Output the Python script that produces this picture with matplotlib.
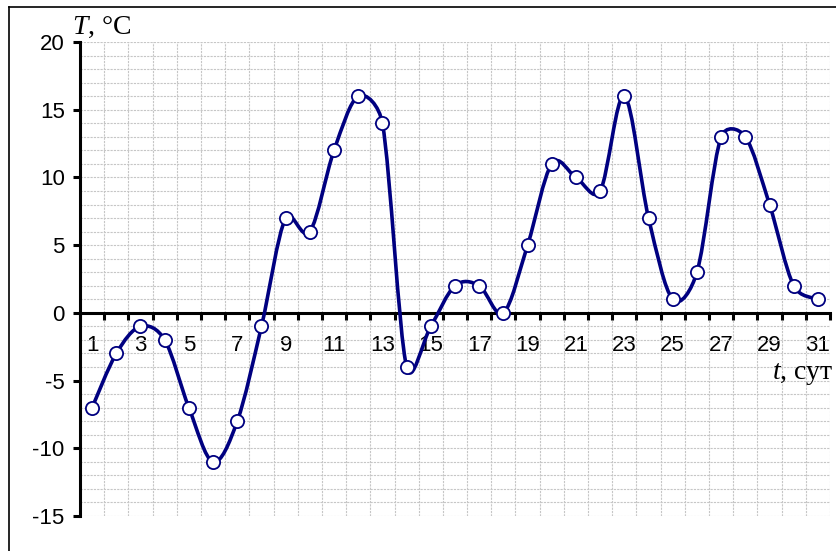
import matplotlib.pyplot as plt
import numpy as np
from matplotlib.path import Path
from matplotlib.patches import PathPatch
from matplotlib.lines import Line2D

# daily temperature, degrees C
days = list(range(1, 32))
temps = [-7, -3, -1, -2, -7, -11, -8, -1, 7, 6, 12, 16, 14, -4, -1, 2,
         2, 0, 5, 11, 10, 9, 16, 7, 1, 3, 13, 13, 8, 2, 1]
day_labels = [str(d) for d in range(1, 32, 2)]
y_ticks = [-15, -10, -5, 0, 5, 10, 15, 20]

plt.rcParams['mathtext.fontset'] = 'custom'
plt.rcParams['mathtext.rm'] = 'Liberation Serif'
plt.rcParams['mathtext.it'] = 'Liberation Serif:italic'
plt.rcParams['axes.unicode_minus'] = False

navy = '#000080'
PX_X = 24.2   # pixels per day
PX_Y = 13.54  # pixels per degree


def smooth_path(xs, ys):
    # Excel-like smoothed line: cubic Bezier, control arms limited
    # to half of the segment length (measured on screen)
    pts = np.column_stack([xs, ys]).astype(float)
    scr = pts * [PX_X, PX_Y]
    n = len(pts)
    verts = [pts[0]]
    codes = [Path.MOVETO]
    for i in range(n - 1):
        a, b = max(i - 1, 0), min(i + 2, n - 1)
        d12 = np.hypot(*(scr[i + 1] - scr[i]))
        d02 = np.hypot(*(scr[i + 1] - scr[a]))
        d13 = np.hypot(*(scr[b] - scr[i]))
        f1 = 1 / 6 if d02 / 6 < d12 / 2 else d12 / (2 * d02)
        f2 = 1 / 6 if d13 / 6 < d12 / 2 else d12 / (2 * d13)
        c1 = pts[i] + (pts[i + 1] - pts[a]) * f1
        c2 = pts[i + 1] - (pts[b] - pts[i]) * f2
        verts += [c1, c2, pts[i + 1]]
        codes += [Path.CURVE4] * 3
    return Path(verts, codes)


fig = plt.figure(figsize=(8.36, 5.51), dpi=100)
ax = fig.add_axes([80 / 836, 1 - 516 / 551, 750 / 836, 474 / 551])

ax.set_xlim(0.5, 31.5)
ax.set_ylim(-15, 20)

# grid: category boundaries vertically, every degree horizontally
ax.set_xticks(np.arange(0.5, 32, 1))
ax.set_xticklabels([])
ax.set_xticks(range(1, 32, 2), minor=True)
ax.set_xticklabels(day_labels, minor=True)
ax.set_yticks(y_ticks)
ax.set_yticks(range(-15, 21), minor=True)

grid_kw = dict(color='#c6c6c6', lw=0.8, ls=(0, (2, 1)))
ax.grid(True, which='major', axis='x', **grid_kw)
ax.grid(True, which='both', axis='y', **grid_kw)
ax.set_axisbelow(True)

for s in ['top', 'right']:
    ax.spines[s].set_visible(False)
ax.spines['bottom'].set_position(('data', 0))
ax.spines['bottom'].set_linewidth(2.2)
ax.spines['left'].set_linewidth(2.2)

ax.tick_params(axis='x', which='major', direction='out', length=5, width=2.2)
ax.tick_params(axis='x', which='minor', length=0, pad=16, labelsize=16)
ax.tick_params(axis='y', which='major', direction='out', length=5, width=2.2,
               pad=6, labelsize=16)
ax.tick_params(axis='y', which='minor', length=0)
for lab in ax.get_xticklabels(minor=True) + ax.get_yticklabels():
    lab.set_fontfamily('Liberation Sans')

ax.add_patch(PathPatch(smooth_path(days, temps), fc='none', ec=navy, lw=2.6,
                       zorder=3, capstyle='round', joinstyle='round'))
ax.plot(days, temps, ls='none', marker='o', ms=9.5, mfc='white', mec=navy,
        mew=1.3, zorder=4, clip_on=False)

fig.text(72 / 836, 1 - 34 / 551, '$T$, °C', fontsize=20,
         family='Liberation Serif')
fig.text(833 / 836, 1 - 379 / 551, '$t$, сут', fontsize=20,
         family='Liberation Serif', ha='right')

# outer frame of the chart object
fig.add_artist(Line2D([9 / 836, 9 / 836], [0, 1 - 7 / 551], color='black', lw=1.2))
fig.add_artist(Line2D([9 / 836, 1], [1 - 7 / 551, 1 - 7 / 551], color='black', lw=1.2))

fig.savefig('out.png', dpi=100)
